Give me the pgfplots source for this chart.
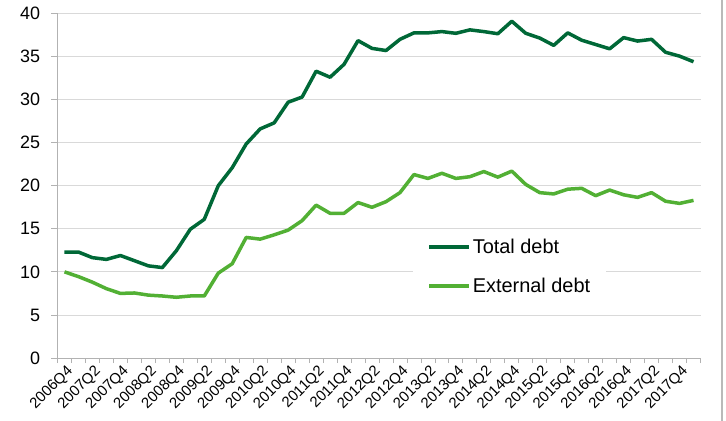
\documentclass[border=0pt]{standalone}
\usepackage{fontspec}
\setmainfont{Liberation Sans}
\usepackage{pgfplots}
\usepackage{pgfplotstable}
\pgfplotsset{compat=1.18}

\definecolor{totalgreen}{RGB}{0,104,55}
\definecolor{extgreen}{RGB}{82,176,52}
\definecolor{gridgray}{RGB}{217,217,217}
\definecolor{axisgray}{RGB}{178,178,178}

% quarterly debt series, 2006Q4 to 2018Q1
\pgfplotstableread{
idx total external
0  12.30 10.00
1  12.30  9.45
2  11.65  8.80
3  11.45  8.05
4  11.90  7.50
5  11.30  7.55
6  10.70  7.30
7  10.50  7.20
8  12.45  7.05
9  14.95  7.20
10 16.10  7.20
11 20.00  9.85
12 22.10 10.95
13 24.85 14.00
14 26.60 13.80
15 27.30 14.30
16 29.70 14.85
17 30.30 15.95
18 33.30 17.75
19 32.60 16.80
20 34.10 16.80
21 36.85 18.05
22 35.95 17.50
23 35.70 18.15
24 37.00 19.20
25 37.75 21.30
26 37.75 20.85
27 37.90 21.45
28 37.70 20.85
29 38.10 21.05
30 37.90 21.65
31 37.65 21.00
32 39.10 21.70
33 37.70 20.15
34 37.15 19.20
35 36.30 19.05
36 37.75 19.60
37 36.90 19.70
38 36.40 18.85
39 35.90 19.50
40 37.20 18.95
41 36.80 18.65
42 37.00 19.20
43 35.50 18.20
44 35.05 17.95
45 34.40 18.30
}\debt

\begin{document}
\begin{tikzpicture}
\useasboundingbox (-57.5bp,-63bp) rectangle (668.5bp,358bp);
\begin{axis}[
  scale only axis,
  width=643bp, height=344.5bp,
  anchor=south west, at={(0,0)},
  xmin=-0.5, xmax=45.5,
  ymin=0, ymax=40,
  axis x line=bottom, axis y line=left,
  axis line style={-, axisgray, line width=1bp},
  xtick={0,2,...,44},
  xticklabels={2006Q4,2007Q2,2007Q4,2008Q2,2008Q4,2009Q2,2009Q4,2010Q2,2010Q4,2011Q2,2011Q4,2012Q2,2012Q4,2013Q2,2013Q4,2014Q2,2014Q4,2015Q2,2015Q4,2016Q2,2016Q4,2017Q2,2017Q4},
  minor xtick={-0.5,0.5,...,45.5},
  major x tick style={draw=none},
  minor x tick style={axisgray, line width=0.8bp},
  minor tick length=5bp,
  ytick={0,5,...,40},
  y tick style={axisgray, line width=0.8bp},
  major tick length=6bp,
  tick align=outside,
  ymajorgrids,
  major grid style={gridgray, line width=0.8bp},
  /pgf/number format/assume math mode=true,
  y tick label style={font=\fontsize{18}{20}\selectfont, xshift=-8bp},
  x tick label style={font=\fontsize{15}{17}\selectfont, rotate=45, anchor=east, xshift=4bp, yshift=-8bp},
  legend style={draw=none, fill=white, font=\fontsize{20}{23}\selectfont,
    at={(axis description cs:0.553,0.375)}, anchor=north west,
    row sep=19bp, inner xsep=14bp, inner ysep=8bp},
  legend cell align=left,
  legend image code/.code={\draw[#1, line width=3.5bp] (0bp,0bp) -- (40bp,0bp);},
]
\addplot[totalgreen, line width=3.5bp, line join=round] table[x=idx, y=total] {\debt};
\addlegendentry{Total debt}
\addplot[extgreen, line width=3.5bp, line join=round] table[x=idx, y=external] {\debt};
\addlegendentry{External debt}
\end{axis}
\draw[gray!55, line width=2bp] (664.5bp,-63bp) -- (664.5bp,358bp);
\end{tikzpicture}
\end{document}
